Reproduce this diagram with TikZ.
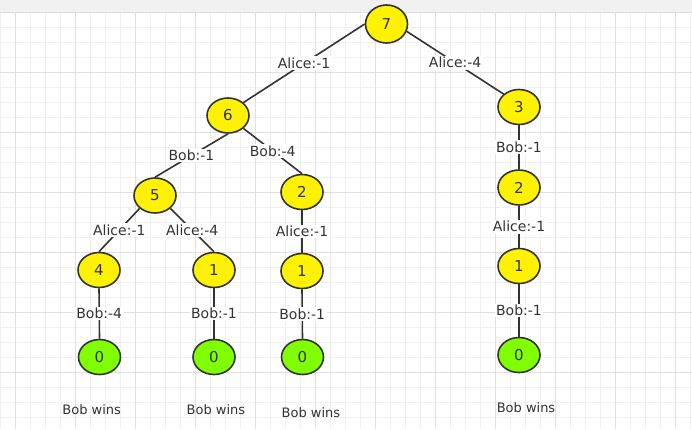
\documentclass[tikz,border=0pt]{standalone}
\usepackage{fontspec}
\setmainfont{DejaVu Sans}
\usetikzlibrary{shapes.geometric}
\definecolor{gristexto}{HTML}{333333}
\definecolor{verdehoja}{HTML}{80FF00}
\definecolor{rejillamenor}{HTML}{F0F0F0}
\definecolor{rejillamayor}{HTML}{E0E0E0}
\definecolor{franja}{HTML}{F1F1F1}

\begin{document}
\begin{tikzpicture}[x=1pt,y=-1pt,
    nodo/.style={ellipse,draw=gristexto,line width=1.6pt,fill=yellow,minimum width=42pt,minimum height=35pt,inner sep=0pt,text=gristexto,font=\fontsize{15}{17}\selectfont},
    hoja/.style={nodo,fill=verdehoja},
    arista/.style={draw=gristexto,line width=1.6pt},
    peso/.style={fill=white,inner sep=1.5pt,text=gristexto,font=\fontsize{14}{16}\selectfont},
    fin/.style={text=gristexto,font=\fontsize{13}{15}\selectfont}]

    \useasboundingbox (0,0) rectangle (692,429);
    % Rejilla
    \fill[white] (0,0) rectangle (692,429);
    \fill[franja] (0,0) rectangle (692,12);
    \foreach \x in {0,...,46} \draw[rejillamenor,line width=0.8pt] (15*\x+0.3,12) -- (15*\x+0.3,429);
    \foreach \y in {0,...,27} \draw[rejillamenor,line width=0.8pt] (0,12+15*\y) -- (692,12+15*\y);
    \foreach \x in {0,...,11} \draw[rejillamayor,line width=0.8pt] (15+60*\x,12) -- (15+60*\x,429);
    \foreach \y in {0,...,6} \draw[rejillamayor,line width=0.8pt] (0,12+60*\y) -- (692,12+60*\y);

    % Nodos
    \node[nodo,minimum height=38pt] (n7) at (386.5,24) {7};
    \node[nodo] (n6) at (228,115.5) {6};
    \node[nodo] (n3) at (519,107) {3};
    \node[nodo] (n5) at (155,195.5) {5};
    \node[nodo] (n2a) at (302,192) {2};
    \node[nodo] (n2b) at (519,187.5) {2};
    \node[nodo] (n4) at (99,270) {4};
    \node[nodo] (n1a) at (214,270) {1};
    \node[nodo] (n1b) at (302,271) {1};
    \node[nodo] (n1c) at (519,266) {1};
    \node[hoja] (n0a) at (99.5,357) {0};
    \node[hoja] (n0b) at (214,357) {0};
    \node[hoja] (n0c) at (302.5,357) {0};
    \node[hoja] (n0d) at (519,355) {0};

    % Aristas
    \draw[arista] (n7.west) -- (n6.north east) node[peso,midway] {Alice:-1};
    \draw[arista] (n7.-20) -- (n3.north west) node[peso,midway] {Alice:-4};
    \draw[arista] (n6.south) -- (n5.north) node[peso,midway] {Bob:-1};
    \draw[arista] (n6.south east) -- (n2a.north) node[peso,midway] {Bob:-4};
    \draw[arista] (n5.south west) -- (n4.north) node[peso,midway] {Alice:-1};
    \draw[arista] (n5.south east) -- (n1a.north) node[peso,midway] {Alice:-4};
    \draw[arista] (n2a.south) -- (n1b.north) node[peso,midway] {Alice:-1};
    \draw[arista] (n4.south) -- (n0a.north) node[peso,midway] {Bob:-4};
    \draw[arista] (n1a.south) -- (n0b.north) node[peso,midway] {Bob:-1};
    \draw[arista] (n1b.south) -- (n0c.north) node[peso,midway] {Bob:-1};
    \draw[arista] (n3.south) -- (n2b.north) node[peso,midway] {Bob:-1};
    \draw[arista] (n2b.south) -- (n1c.north) node[peso,midway] {Alice:-1};
    \draw[arista] (n1c.south) -- (n0d.north) node[peso,midway] {Bob:-1};

    % Resultados
    \node[fin] (g1) at (91.7,410) {Bob wins};
    \node[fin] (g2) at (216,410) {Bob wins};
    \node[fin] (g3) at (311,413) {Bob wins};
    \node[fin] (g4) at (526,408) {Bob wins};
\end{tikzpicture}
\end{document}
